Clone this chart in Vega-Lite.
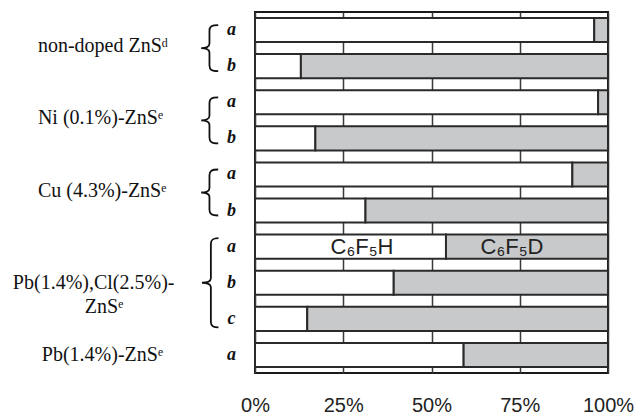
{
  "$schema": "https://vega.github.io/schema/vega-lite/v6.json",
  "width": 353,
  "height": 361,
  "autosize": {"type": "none"},
  "padding": {"left": 255, "top": 12, "right": 34, "bottom": 44},
  "background": "white",
  "config": {"view": {"stroke": "#1a1a1a", "strokeWidth": 2}},
  "datasets": {
    "bars": [
      {"row": "1a", "species": "C6F5H", "value": 96.1},
      {"row": "1a", "species": "C6F5D", "value": 3.9},
      {"row": "1b", "species": "C6F5H", "value": 13.0},
      {"row": "1b", "species": "C6F5D", "value": 87.0},
      {"row": "2a", "species": "C6F5H", "value": 97.2},
      {"row": "2a", "species": "C6F5D", "value": 2.8},
      {"row": "2b", "species": "C6F5H", "value": 17.1},
      {"row": "2b", "species": "C6F5D", "value": 82.9},
      {"row": "3a", "species": "C6F5H", "value": 89.9},
      {"row": "3a", "species": "C6F5D", "value": 10.1},
      {"row": "3b", "species": "C6F5H", "value": 31.3},
      {"row": "3b", "species": "C6F5D", "value": 68.7},
      {"row": "4a", "species": "C6F5H", "value": 54.1},
      {"row": "4a", "species": "C6F5D", "value": 45.9},
      {"row": "4b", "species": "C6F5H", "value": 39.3},
      {"row": "4b", "species": "C6F5D", "value": 60.7},
      {"row": "4c", "species": "C6F5H", "value": 14.8},
      {"row": "4c", "species": "C6F5D", "value": 85.2},
      {"row": "5a", "species": "C6F5H", "value": 59.1},
      {"row": "5a", "species": "C6F5D", "value": 40.9}
    ],
    "labels": [
      {"row": "1a", "label": "non-doped ZnSᵈ", "kind": "two"},
      {"row": "2a", "label": "Ni (0.1%)-ZnSᵉ", "kind": "two"},
      {"row": "3a", "label": "Cu (4.3%)-ZnSᵉ", "kind": "two"},
      {"row": "4b", "label": "Pb(1.4%),Cl(2.5%)-", "kind": "pbcl1"},
      {"row": "4b", "label": "ZnSᵉ", "kind": "pbcl2"},
      {"row": "5a", "label": "Pb(1.4%)-ZnSᵉ", "kind": "single"}
    ]
  },
  "layer": [
    {
      "data": {"name": "bars"},
      "mark": {"type": "bar", "stroke": "#2a2a2a", "strokeWidth": 2},
      "encoding": {
        "y": {
          "field": "row",
          "type": "nominal",
          "scale": {"paddingInner": 0.3333, "paddingOuter": 0.1667},
          "axis": {
            "title": null,
            "labelExpr": "substring(datum.value, 1)",
            "domain": false,
            "ticks": false,
            "tickSize": 0,
            "labelPadding": 24,
            "labelAlign": "center",
            "labelFont": "Liberation Serif",
            "labelFontStyle": "italic",
            "labelFontWeight": "bold",
            "labelFontSize": 18,
            "labelColor": "#111",
            "grid": false
          }
        },
        "x": {
          "field": "value",
          "type": "quantitative",
          "stack": "zero",
          "scale": {"domain": [0, 100], "nice": false},
          "axis": {
            "title": null,
            "values": [0, 25, 50, 75, 100],
            "labelExpr": "datum.value + '%'",
            "grid": true,
            "gridColor": "#3a3a3a",
            "gridWidth": 1.5,
            "domain": false,
            "ticks": false,
            "tickSize": 0,
            "labelFont": "Liberation Sans",
            "labelFontSize": 20,
            "labelColor": "#222",
            "labelPadding": 22,
            "labelFlush": false
          }
        },
        "color": {
          "field": "species",
          "type": "nominal",
          "scale": {"domain": ["C6F5H", "C6F5D"], "range": ["#ffffff", "#c8c9cb"]},
          "legend": null
        },
        "order": {"field": "species", "sort": "descending"}
      }
    },
    {
      "data": {"name": "labels"},
      "transform": [{"filter": "datum.kind === 'two'"}],
      "mark": {"type": "text", "align": "left", "baseline": "middle", "dy": -2, "font": "Liberation Serif", "fontSize": 20, "color": "#111"},
      "encoding": {
        "y": {"field": "row", "type": "nominal", "bandPosition": 1.25, "axis": {"title": null}},
        "x": {"datum": -61.5, "type": "quantitative"},
        "text": {"field": "label"}
      }
    },
    {
      "data": {"name": "labels"},
      "transform": [{"filter": "datum.kind === 'single'"}],
      "mark": {"type": "text", "align": "left", "baseline": "middle", "font": "Liberation Serif", "fontSize": 20, "color": "#111"},
      "encoding": {
        "y": {"field": "row", "type": "nominal", "axis": {"title": null}},
        "x": {"datum": -60.4, "type": "quantitative"},
        "text": {"field": "label"}
      }
    },
    {
      "data": {"name": "labels"},
      "transform": [{"filter": "datum.kind === 'pbcl1'"}],
      "mark": {"type": "text", "align": "left", "baseline": "middle", "font": "Liberation Serif", "fontSize": 20, "color": "#111"},
      "encoding": {
        "y": {"field": "row", "type": "nominal", "axis": {"title": null}},
        "x": {"datum": -68.6, "type": "quantitative"},
        "text": {"field": "label"}
      }
    },
    {
      "data": {"name": "labels"},
      "transform": [{"filter": "datum.kind === 'pbcl2'"}],
      "mark": {"type": "text", "align": "left", "baseline": "middle", "dy": 24, "font": "Liberation Serif", "fontSize": 20, "color": "#111"},
      "encoding": {
        "y": {"field": "row", "type": "nominal", "axis": {"title": null}},
        "x": {"datum": -48.2, "type": "quantitative"},
        "text": {"field": "label"}
      }
    },
    {
      "data": {"name": "labels"},
      "transform": [{"filter": "datum.kind === 'two'"}],
      "mark": {
        "type": "point",
        "shape": "M 0.38 -1 C 0.1 -1 0 -0.95 0 -0.75 L 0 -0.2 C 0 -0.05 -0.15 0 -0.36 0 C -0.15 0 0 0.05 0 0.2 L 0 0.75 C 0 0.95 0.1 1 0.38 1",
        "size": 2116,
        "filled": false,
        "stroke": "#111",
        "strokeWidth": 1.8,
        "opacity": 1
      },
      "encoding": {
        "y": {"field": "row", "type": "nominal", "bandPosition": 1.25, "axis": {"title": null}},
        "x": {"datum": -12.9, "type": "quantitative"}
      }
    },
    {
      "data": {"name": "labels"},
      "transform": [{"filter": "datum.kind === 'pbcl1'"}],
      "mark": {
        "type": "point",
        "shape": "M 0.17 -1 C 0.05 -1 0 -0.97 0 -0.87 L 0 -0.1 C 0 -0.03 -0.08 0 -0.2 0 C -0.08 0 0 0.03 0 0.1 L 0 0.87 C 0 0.97 0.05 1 0.17 1",
        "size": 7992,
        "filled": false,
        "stroke": "#111",
        "strokeWidth": 1.8,
        "opacity": 1
      },
      "encoding": {
        "y": {"field": "row", "type": "nominal", "axis": {"title": null}},
        "x": {"datum": -12.5, "type": "quantitative"}
      }
    },
    {
      "data": {"values": [{"row": "4a", "label": "C₆F₅H"}]},
      "mark": {"type": "text", "align": "center", "baseline": "middle", "font": "Liberation Sans", "fontSize": 22, "color": "#222"},
      "encoding": {
        "y": {"field": "row", "type": "nominal", "axis": {"title": null}},
        "x": {"datum": 30.3, "type": "quantitative"},
        "text": {"field": "label"}
      }
    },
    {
      "data": {"values": [{"row": "4a", "label": "C₆F₅D"}]},
      "mark": {"type": "text", "align": "center", "baseline": "middle", "font": "Liberation Sans", "fontSize": 22, "color": "#222"},
      "encoding": {
        "y": {"field": "row", "type": "nominal", "axis": {"title": null}},
        "x": {"datum": 72.8, "type": "quantitative"},
        "text": {"field": "label"}
      }
    }
  ]
}
